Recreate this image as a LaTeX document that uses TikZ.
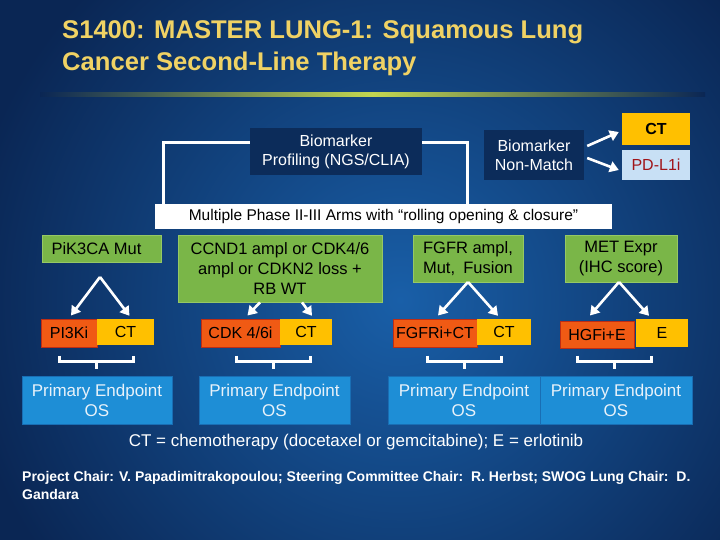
\documentclass[tikz,border=0pt]{standalone}
\usepackage{fontspec}
\setmainfont{Liberation Sans}
\usetikzlibrary{arrows.meta,calc}
\definecolor{bgdark}{RGB}{10,38,84}
\definecolor{bglight}{RGB}{25,95,168}
\definecolor{titlegold}{RGB}{240,210,100}
\definecolor{navy}{RGB}{12,44,90}
\definecolor{gold}{RGB}{255,192,0}
\definecolor{orng}{RGB}{240,90,20}
\definecolor{orngb}{RGB}{190,45,20}
\definecolor{grn}{RGB}{122,182,72}
\definecolor{grnb}{RGB}{150,200,100}
\definecolor{pebl}{RGB}{30,142,214}
\definecolor{pebd}{RGB}{25,110,180}
\definecolor{ltblue}{RGB}{200,224,245}
\definecolor{dred}{RGB}{160,20,25}
\definecolor{lime}{RGB}{195,215,80}
\tikzset{
  navybox/.style={fill=navy, text=white, align=center, inner sep=0pt, font=\fontsize{16}{19}\selectfont},
  grnbox/.style={fill=grn, draw=grnb, line width=0.8pt, text=black, align=center, inner sep=0pt, font=\fontsize{16.5}{20}\selectfont},
  orbox/.style={fill=orng, draw=orngb, line width=1pt, text=black, align=center, inner sep=0pt, font=\fontsize{16}{19}\selectfont},
  gdbox/.style={fill=gold, text=black, align=center, inner sep=0pt, font=\fontsize{16}{19}\selectfont},
  pebox/.style={fill=pebl, draw=pebd, line width=0.8pt, text={rgb,255:red,232;green,242;blue,250}, align=center, inner sep=0pt, font=\fontsize{17}{20}\selectfont, minimum height=48},
  conn/.style={white, line width=3pt},
  arr/.style={white, line width=2.6pt, -{Triangle[length=9pt,width=11pt]}},
  titletext/.style={anchor=base west, text=titlegold, font=\bfseries\fontsize{25.6}{30}\selectfont, inner sep=0},
}
\begin{document}
\begin{tikzpicture}[x=1pt,y=-1pt]
\useasboundingbox (0,0) rectangle (720,540);
\begin{scope}
\clip (0,0) rectangle (720,540);
\fill[bgdark] (0,0) rectangle (720,540);
\shade[inner color=bglight, outer color=bgdark] (400,300) circle (440);
\end{scope}
% title
\node[titletext] (t1) at (62,39) {S1400: MASTER LUNG-1: Squamous Lung};
\node[titletext] (t2) at (62,71) {Cancer Second-Line Therapy};
\shade[left color=bgdark, right color=bgdark, middle color=lime] (40,93) rectangle (705,97);
% top
\node[navybox, minimum width=172, minimum height=47] (prof) at (336,151.5) {Biomarker\\Profiling (NGS/CLIA)};
\node[navybox, minimum width=100, minimum height=50] (nm) at (534,155) {Biomarker\\Non-Match};
\node[gdbox, minimum width=68, minimum height=32, font=\bfseries\fontsize{16}{19}\selectfont] (ct0) at (656,129) {CT};
\node[fill=ltblue, text=dred, inner sep=0pt, minimum width=68, minimum height=30, font=\fontsize{16}{19}\selectfont] (pd) at (656,165) {PD-L1i};
\draw[arr] ([shift={(3,-9)}]nm.east) -- ([shift={(-3,3)}]ct0.west);
\draw[arr] ([shift={(3,3)}]nm.east) -- ([shift={(-3,5)}]pd.west);
\node[fill=white, text=black, inner sep=0pt, minimum width=457, minimum height=25, font=\fontsize{15.5}{18}\selectfont] (multi) at (383.5,216.5) {Multiple Phase II-III Arms with “rolling opening \& closure”};
\coordinate (bl) at (163,143);
\coordinate (br) at (467,143);
\draw[conn] (bl |- multi.north) -- (bl) -- (bl -| prof.west);
\draw[conn] (prof.east |- br) -- (br) -- (br |- multi.north);
% green biomarker boxes
\node[grnbox, minimum width=119, minimum height=27] (g1) at (101.5,248.5) {PiK3CA Mut\hspace{10pt}};
\node[grnbox, minimum width=204, minimum height=67] (g2) at (280,268.5) {CCND1 ampl or CDK4/6\\ampl or CDKN2 loss +\\RB WT};
\node[grnbox, minimum width=110, minimum height=47] (g3) at (468,258.5) {FGFR ampl,\\Mut,\enspace Fusion};
\node[grnbox, minimum width=112, minimum height=47] (g4) at (621,258.5) {MET Expr\\(IHC score)};
% treatment boxes
\node[orbox, minimum width=56, minimum height=28] (pi3k) at (69,333) {PI3Ki};
\node[gdbox, minimum width=57, minimum height=26] (ct1) at (125.5,332) {CT};
\node[orbox, minimum width=79, minimum height=28] (cdk) at (240.5,333) {CDK 4/6i};
\node[gdbox, minimum width=52, minimum height=26] (ct2) at (306,332) {CT};
\node[orbox, minimum width=84, minimum height=28] (fgfr) at (435,333) {FGFRi+CT};
\node[gdbox, minimum width=54, minimum height=26] (ct3) at (504,332) {CT};
\node[orbox, minimum width=74, minimum height=27] (hgf) at (597,334.5) {HGFi+E};
\node[gdbox, minimum width=52, minimum height=28] (e4) at (662,333) {E};
% arrows
\coordinate (a1) at (100,277);
\coordinate (a3) at (468,282);
\coordinate (a4) at (619,282);
\draw[arr] (a1) -- ([shift={(2,-3)}]pi3k.north);
\draw[arr] (a1) -- ([shift={(4,-3)}]ct1.north);
\draw[arr] ([shift={(-20,0)}]g2.south) -- ([shift={(7,-3)}]cdk.north);
\draw[arr] ([shift={(22,0)}]g2.south) -- ([shift={(6,-3)}]ct2.north);
\draw[arr] (a3) -- ([shift={(3,-3)}]fgfr.north);
\draw[arr] (a3) -- ([shift={(-6,-3)}]ct3.north);
\draw[arr] (a4) -- ([shift={(-7,-5)}]hgf.north);
\draw[arr] (a4) -- ([shift={(-13,-3)}]e4.north);
% endpoint boxes
\node[pebox, minimum width=150] (pe1) at (97,400) {Primary Endpoint\\OS};
\node[pebox, minimum width=151] (pe2) at (274.5,400) {Primary Endpoint\\OS};
\node[pebox, minimum width=152] (pe3) at (464,400) {Primary Endpoint\\OS};
\node[pebox, minimum width=152] (pe4) at (616,400) {Primary Endpoint\\OS};
% brackets
\foreach \p/\dx in {pe1/-1, pe2/-1.5, pe3/0, pe4/-2} {
  \draw[conn] ([shift={(\dx-37,-20)}]\p.north) -- ([shift={(\dx-37,-14)}]\p.north) -- ([shift={(\dx+37,-14)}]\p.north) -- ([shift={(\dx+37,-20)}]\p.north);
  \draw[conn] ([shift={(\dx,-15)}]\p.north) -- ([shift={(\dx,-7)}]\p.north);
}
% footnotes
\node[text=white, inner sep=0, font=\fontsize{17}{20}\selectfont] (fn) at (356,442) {CT = chemotherapy (docetaxel or gemcitabine); E = erlotinib};
\node[anchor=north west, text=white, inner sep=0, align=left, font=\bfseries\fontsize{14}{18}\selectfont] (chair) at (22,471) {Project Chair: V. Papadimitrakopoulou; Steering Committee Chair:\ \ R. Herbst; SWOG Lung Chair:\ \ D.\\Gandara};
\end{tikzpicture}
\end{document}
